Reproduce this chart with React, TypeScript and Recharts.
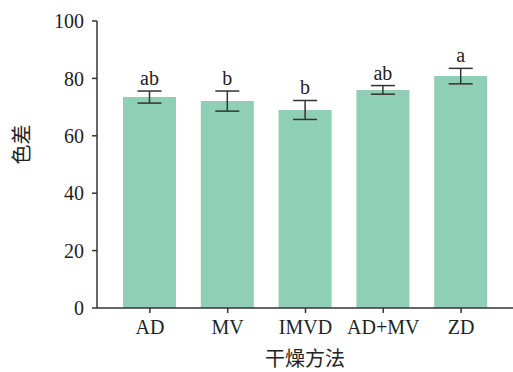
import React from 'react';
import { BarChart, Bar, XAxis, YAxis, ErrorBar, LabelList } from 'recharts';

const methods = ['AD', 'MV', 'IMVD', 'AD+MV', 'ZD'];
const colorDiff = [73.5, 72.1, 69.0, 76.0, 80.8];
const errors = [2.1, 3.5, 3.3, 1.5, 2.7];
const letters = ['ab', 'b', 'b', 'ab', 'a'];
const yTicks = [0, 20, 40, 60, 80, 100];

const data = methods.map((m, i) => ({
    method: m,
    value: colorDiff[i],
    err: errors[i],
    letter: letters[i],
}));

const serif = '"Liberation Serif", "Times New Roman", serif';
const cjk = '"Noto Sans CJK SC", sans-serif';
const axisColor = '#333';

const LetterLabel = (props: any) => {
    const { x, width, index, value } = props;
    const yScaleTop = 21;
    const plotH = 287;
    const top = colorDiff[index] + errors[index];
    const y = yScaleTop + plotH * (1 - top / 100) - 6;
    return (
        <text x={x + width / 2} y={y} textAnchor="middle" fontFamily={serif} fontSize={20} fill="#222">
            {value}
        </text>
    );
};

const App: React.FC = () => {
    return (
        <div style={{ position: 'absolute', left: 0, top: 0, width: 513, height: 372, background: '#fff' }}>
            <BarChart width={513} height={372} data={data} margin={{ top: 21, right: 0, left: 0, bottom: 0 }}>
                <XAxis
                    dataKey="method"
                    height={64}
                    padding={{ left: 14, right: 13 }}
                    stroke={axisColor}
                    strokeWidth={1.5}
                    tickSize={5}
                    tickMargin={7}
                    tick={{ fill: '#222', fontFamily: serif, fontSize: 20 }}
                    label={{ value: '干燥方法', position: 'insideBottom', offset: 6, fill: '#222', fontFamily: cjk, fontSize: 20 }}
                />
                <YAxis
                    width={97}
                    domain={[0, 100]}
                    ticks={yTicks}
                    stroke={axisColor}
                    strokeWidth={1.5}
                    tickSize={5}
                    tickMargin={8}
                    tick={{ fill: '#222', fontFamily: serif, fontSize: 20 }}
                    label={{ value: '色差', angle: -90, position: 'insideLeft', offset: 22, fill: '#222', fontFamily: cjk, fontSize: 20 }}
                />
                <Bar dataKey="value" fill="#8ECFB6" barSize={53} isAnimationActive={false}>
                    <ErrorBar dataKey="err" width={12} stroke={axisColor} strokeWidth={1.5} />
                    <LabelList dataKey="letter" content={LetterLabel} />
                </Bar>
            </BarChart>
        </div>
    );
};

export default App;
